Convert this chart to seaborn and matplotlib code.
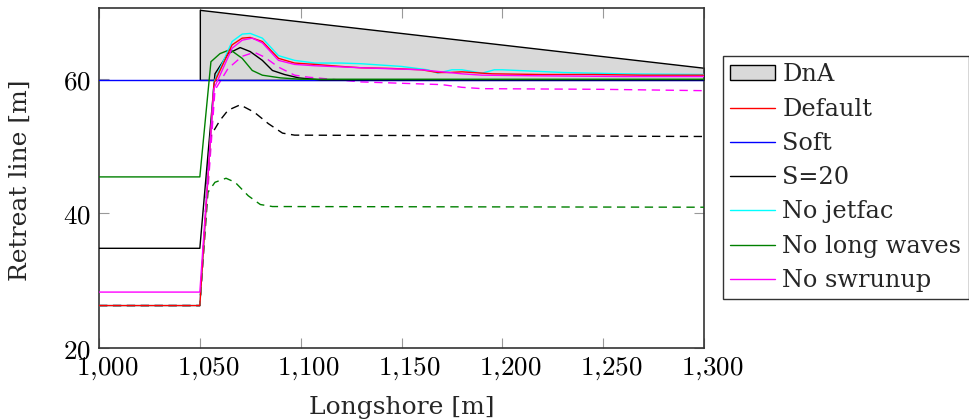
import matplotlib
matplotlib.use("Agg")
import matplotlib.pyplot as plt
import matplotlib.transforms as mtrans
import seaborn as sns
import pandas as pd
from matplotlib.ticker import FuncFormatter, FixedLocator
from matplotlib.patches import Patch

# ---------------- data ----------------
dna_x = [1050, 1300]
dna_top = [70.2, 61.6]
dna_bottom = [59.8, 59.8]

default_x = [1000, 1050, 1057, 1066, 1071, 1075, 1081, 1089, 1097, 1107, 1120, 1130, 1145,
             1160, 1168, 1174, 1180, 1195, 1220, 1245, 1270, 1300]
default_y = [26.3, 26.3, 59.3, 65.0, 66.0, 66.1, 65.5, 63.0, 62.3, 62.1, 61.8, 61.6, 61.5,
             61.3, 60.9, 60.9, 61.0, 60.7, 60.6, 60.6, 60.5, 60.5]

soft_x = [1000, 1300]
soft_y = [59.8, 59.8]

s20_x = [1000, 1050, 1057.5, 1064, 1070, 1075, 1081, 1086, 1092, 1099, 1110, 1300]
s20_y = [34.8, 34.8, 60.7, 63.7, 64.6, 64.0, 62.7, 61.2, 60.6, 60.1, 59.8, 59.8]

jetfac_x = [1000, 1050, 1057, 1066, 1071, 1075, 1081, 1089, 1097, 1107, 1120, 1130, 1150,
            1163, 1168, 1175, 1180, 1190, 1196, 1200, 1230, 1260, 1300]
jetfac_y = [26.3, 26.3, 59.5, 65.5, 66.6, 66.7, 66.0, 63.4, 62.7, 62.3, 62.3, 62.2, 61.8,
            61.3, 60.8, 61.3, 61.3, 60.8, 61.3, 61.3, 60.9, 60.7, 60.6]

longw_x = [1000, 1050, 1055.5, 1060, 1065, 1071, 1076, 1081, 1090, 1100, 1300]
longw_y = [45.4, 45.4, 62.5, 63.7, 64.3, 63.0, 61.2, 60.5, 60.1, 59.9, 59.9]

swrun_x = [1000, 1050, 1057, 1066, 1071, 1076, 1081, 1089, 1097, 1107, 1130, 1160, 1180,
           1190, 1220, 1260, 1300]
swrun_y = [28.3, 28.3, 58.5, 64.5, 65.7, 66.0, 65.3, 62.7, 62.1, 61.9, 61.6, 61.3, 60.7,
           60.5, 60.4, 60.3, 60.3]

# dashed variants (not in legend)
swrun_d_x = [1000, 1050, 1057.5, 1064, 1071, 1077, 1082, 1089, 1097, 1104, 1130, 1170, 1180,
             1190, 1250, 1300]
swrun_d_y = [26.3, 26.3, 58.3, 61.5, 63.3, 63.9, 63.2, 61.7, 60.5, 60.2, 59.5, 59.1, 58.7,
             58.5, 58.4, 58.2]

s20_d_x = [1000, 1050, 1055, 1060, 1064, 1070, 1077, 1084, 1091, 1097, 1300]
s20_d_y = [26.3, 26.3, 51.3, 53.8, 55.3, 56.1, 55.0, 53.3, 51.9, 51.6, 51.4]

longw_d_x = [1000, 1050, 1054, 1057.5, 1063, 1067.5, 1074, 1080, 1086, 1300]
longw_d_y = [26.3, 26.3, 43.1, 44.6, 45.2, 44.6, 42.6, 41.3, 41.0, 40.9]

x_ticks = [1000, 1050, 1100, 1150, 1200, 1250, 1300]
y_ticks = [20, 40, 60]

# ---------------- style ----------------
sns.set_theme(style="white")
plt.rcParams['font.family'] = ['DejaVu Serif']
plt.rcParams['mathtext.fontset'] = 'cm'

fig = plt.figure(figsize=(9.70, 4.19), dpi=100)
ax = fig.add_axes([99 / 970, 1 - 348 / 419, (704 - 99) / 970, (348 - 8.5) / 419])

GREEN = "#008000"
lw = 1.0

ax.fill_between(dna_x, dna_bottom, dna_top, facecolor="#d9d9d9", edgecolor="black",
                linewidth=1.0, zorder=1)

series = [
    (swrun_d_x, swrun_d_y, "#ff00ff", "--", None),
    (s20_d_x, s20_d_y, "black", "--", None),
    (longw_d_x, longw_d_y, GREEN, "--", None),
    (soft_x, soft_y, "blue", "-", "Soft"),
    (s20_x, s20_y, "black", "-", "S=20"),
    (longw_x, longw_y, GREEN, "-", "No long waves"),
    (jetfac_x, jetfac_y, "cyan", "-", "No jetfac"),
    (default_x, default_y, "red", "-", "Default"),
    (swrun_x, swrun_y, "#ff00ff", "-", "No swrunup"),
]
for xs, ys, c, ls, lab in series:
    df = pd.DataFrame({"x": xs, "y": ys})
    sns.lineplot(data=df, x="x", y="y", color=c, linestyle=ls, linewidth=lw,
                 estimator=None, sort=False, ax=ax, legend=False, zorder=3,
                 dashes=False)
    if ls == "--":
        ax.lines[-1].set_dashes([6, 4])

ax.set_xlim(1000, 1300)
ax.set_ylim(20, 70.4)
ax.xaxis.set_major_locator(FixedLocator(x_ticks))
ax.yaxis.set_major_locator(FixedLocator(y_ticks))
ax.xaxis.set_major_formatter(FuncFormatter(lambda v, p: r"$%d{,}%03d$" % (int(v) // 1000, int(v) % 1000)))
ax.yaxis.set_major_formatter(FuncFormatter(lambda v, p: r"$%d$" % int(v)))
ax.tick_params(axis="both", which="major", direction="in", length=7, width=0.8,
               color="#999999", labelsize=19.5, top=True, right=True, bottom=True, left=True,
               labelcolor="black")
ax.tick_params(axis="x", pad=5)
ax.tick_params(axis="y", pad=6)
shift = mtrans.ScaledTranslation(8 / 100, 0, fig.dpi_scale_trans)
for lbl in ax.get_xticklabels():
    lbl.set_transform(lbl.get_transform() + shift)
for s in ax.spines.values():
    s.set_color("#333333")
    s.set_linewidth(1.2)
    s.set_visible(True)
ax.set_xlabel("Longshore [m]", fontsize=18)
ax.set_ylabel("Retreat line [m]", fontsize=18)
ax.xaxis.set_label_coords(0.5, (348 - 396) / 339.5)
ax.yaxis.set_label_coords((32 - 99) / 605, 0.495)
ax.grid(False)

handles = [
    Patch(facecolor="#d9d9d9", edgecolor="black", linewidth=1.0, label="DnA"),
    plt.Line2D([], [], color="red", lw=lw, label="Default"),
    plt.Line2D([], [], color="blue", lw=lw, label="Soft"),
    plt.Line2D([], [], color="black", lw=lw, label="S=20"),
    plt.Line2D([], [], color="cyan", lw=lw, label="No jetfac"),
    plt.Line2D([], [], color=GREEN, lw=lw, label="No long waves"),
    plt.Line2D([], [], color="#ff00ff", lw=lw, label="No swrunup"),
]
leg = fig.legend(handles=handles, loc="upper left", bbox_to_anchor=(723 / 970, 1 - 56 / 419),
                 fontsize=17.3, frameon=True, fancybox=False, framealpha=1,
                 handlelength=1.88, handleheight=0.58, handletextpad=0.29, labelspacing=0.47,
                 borderpad=0.3, borderaxespad=0)
leg.get_frame().set_edgecolor("#333333")
leg.get_frame().set_linewidth(1.0)

fig.savefig("out.png", dpi=100)
